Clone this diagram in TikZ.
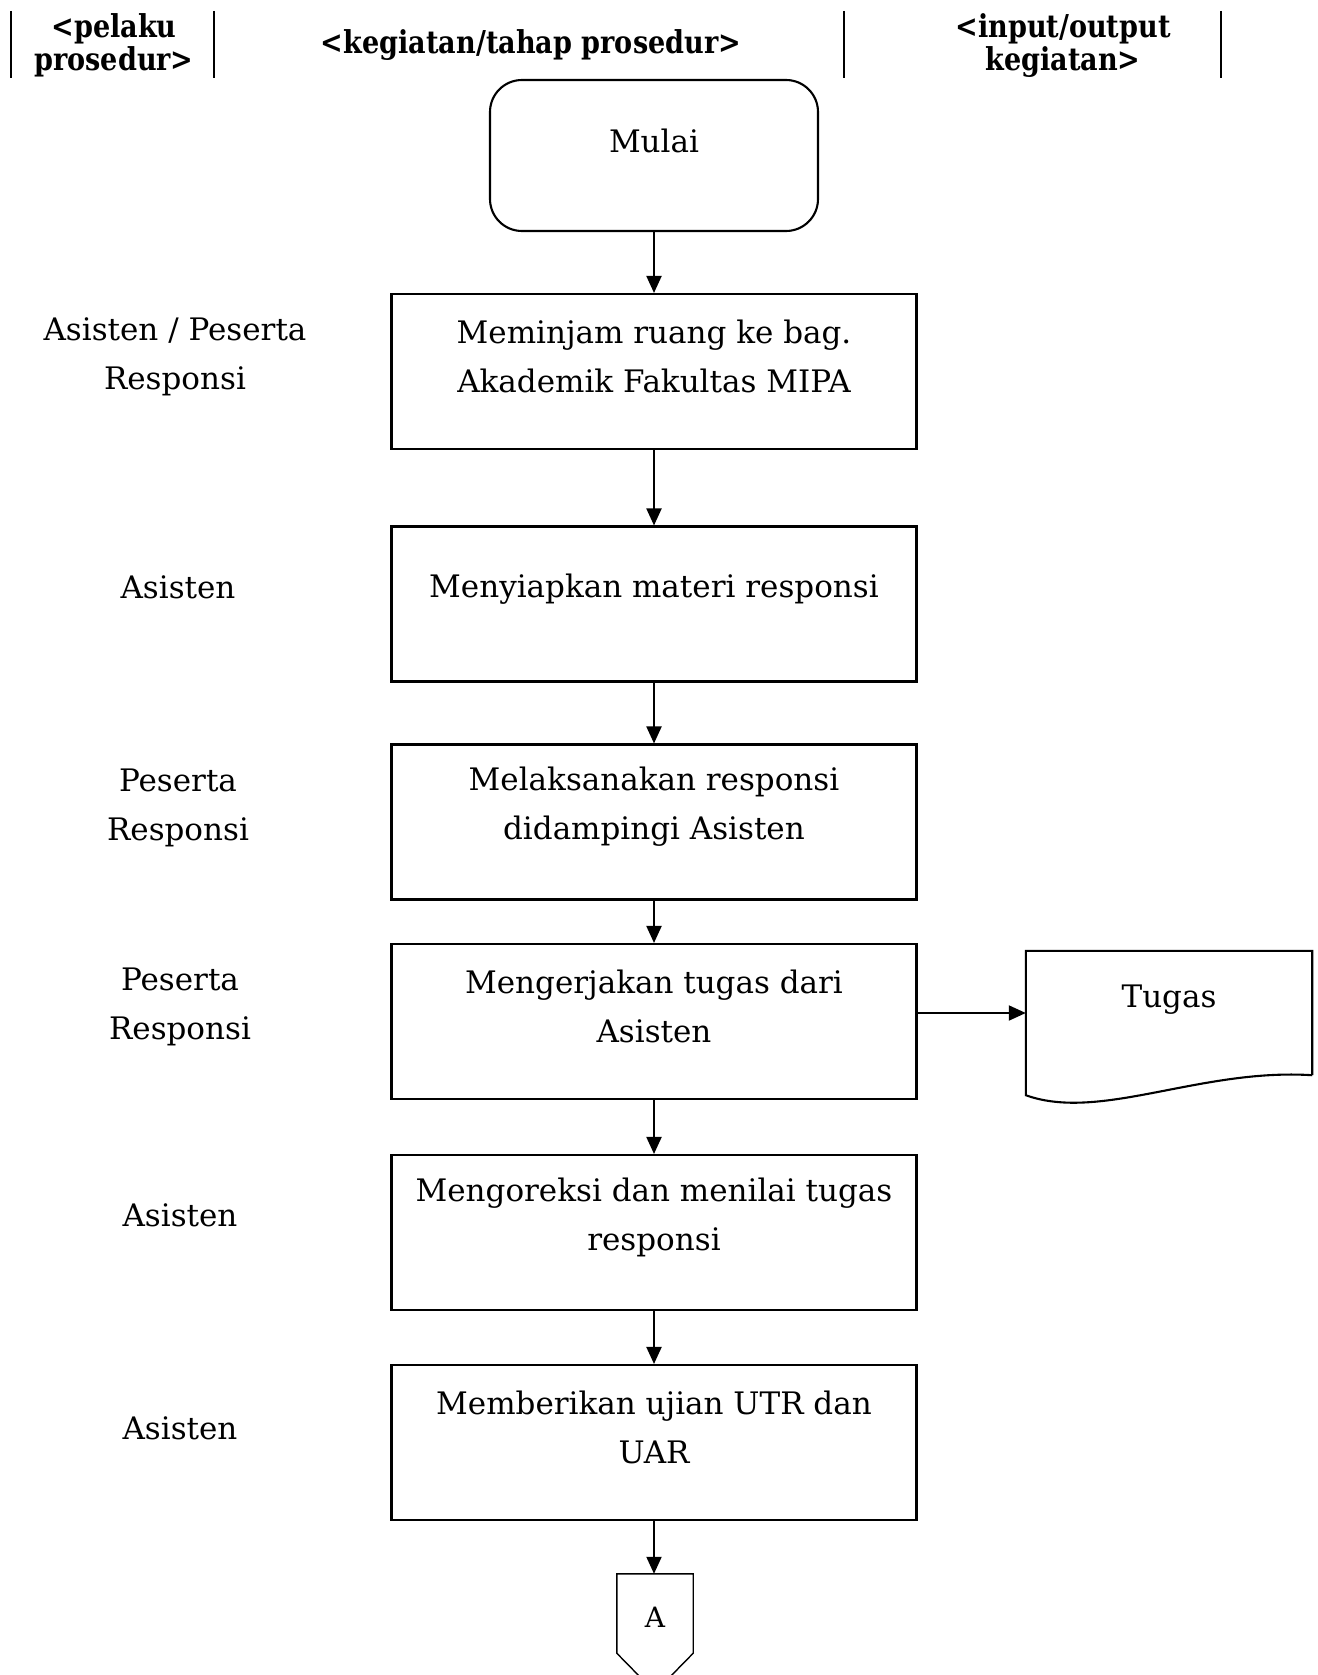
\documentclass[tikz,border=0pt]{standalone}
\usepackage{fontspec}
\setmainfont{DejaVu Serif}
\newfontfamily\hdrfont{DejaVu Serif}[FakeStretch=0.86]
\usetikzlibrary{arrows.meta}
\begin{document}
\begin{tikzpicture}[x=1pt,y=-1pt,
  proc/.style={draw, line width=2.1pt, minimum width=525pt, minimum height=155pt, inner sep=0pt},
  startbox/.style={draw, line width=2.1pt, rounded corners=32pt, minimum width=328pt, minimum height=151pt, inner sep=0pt},
  txt/.style={align=center, inner sep=0pt, font=\fontsize{31}{49}\selectfont},
  hdr/.style={align=center, inner sep=0pt, font=\hdrfont\bfseries\fontsize{31.5}{33}\selectfont},
  arr/.style={-{Triangle[length=17pt,width=15pt]}, line width=2pt},
  shapebox/.style={inner sep=0pt},
  sep/.style={line width=1.8pt}]
\useasboundingbox (0,0) rectangle (1317,1675);
\fill[white] (0,0) rectangle (1317,1675);

% header
\draw[sep] (10.7,11) -- (10.7,78);
\draw[sep] (213.6,11) -- (213.6,78);
\draw[sep] (843.8,11) -- (843.8,78);
\draw[sep] (1220.9,11) -- (1220.9,78);
\node[hdr] (h1) at (114,45.5) {<pelaku\\prosedur>};
\node[hdr] (h2) at (531,45) {<kegiatan/tahap prosedur>};
\node[hdr] (h3) at (1063,45.5) {<input/output\\kegiatan>};

% start
\node[startbox] (mulai) at (654,155.5) {};
\node[txt] (mulaiT) at ([yshift=15pt]mulai.center) {Mulai};

% process boxes
\node[proc] (b1) at (654,371.5) {};
\node[txt] (b1T) at ([yshift=15pt]b1.center) {Meminjam ruang ke bag.\\Akademik Fakultas MIPA};
\node[proc] (b2) at (654,604) {};
\node[txt] (b2T) at ([yshift=15pt]b2.center) {Menyiapkan materi responsi};
\node[proc] (b3) at (654,822) {};
\node[txt] (b3T) at ([yshift=15pt]b3.center) {Melaksanakan responsi\\didampingi Asisten};
\node[proc] (b4) at (654,1021.5) {};
\node[txt] (b4T) at ([yshift=15pt]b4.center) {Mengerjakan tugas dari\\Asisten};
\node[proc] (b5) at (654,1232.5) {};
\node[txt] (b5T) at ([yshift=15pt]b5.center) {Mengoreksi dan menilai tugas\\responsi};
\node[proc] (b6) at (654,1442.5) {};
\node[txt] (b6T) at ([yshift=15pt]b6.center) {Memberikan ujian UTR dan\\UAR};

% lane labels
\node[txt] (l1) at (175,356.5) {Asisten / Peserta\\Responsi};
\node[txt] (l2) at (178,587) {Asisten};
\node[txt] (l3) at (178,807.5) {Peserta\\Responsi};
\node[txt] (l4) at (180,1007) {Peserta\\Responsi};
\node[txt] (l5) at (180,1215) {Asisten};
\node[txt] (l6) at (180,1428) {Asisten};

% document
\node[shapebox, minimum width=286pt, minimum height=124pt] (tugas) at (1169,1013) {};
\draw[line width=2.1pt] (tugas.south east) -- (tugas.north east) -- (tugas.north west)
  -- ([yshift=-20pt]tugas.south west)
  .. controls (1100,1122) and (1200,1068) .. (tugas.south east);
\node[txt] (tugasT) at ([yshift=13pt]tugas.center) {Tugas};

% off-page connector
\node[shapebox, minimum width=76pt, minimum height=79pt] (offA) at (655,1613.5) {};
\draw[line width=1.4pt] (offA.north west) -- (offA.north east) -- (offA.south east)
  -- ([yshift=-39pt]offA.south) -- (offA.south west) -- cycle;
\node[txt, font=\fontsize{28}{34}\selectfont] (offAT) at ([yshift=-4pt]offA.center) {A};

% connectors
\draw[arr] (mulai) -- (b1);
\draw[arr] (b1) -- (b2);
\draw[arr] (b2) -- (b3);
\draw[arr] (b3) -- (b4);
\draw[arr] (b4) -- (b5);
\draw[arr] (b5) -- (b6);
\draw[arr] (b6.south) -- (b6.south |- offA.north);
\draw[arr] (b4.east |- tugas.west) -- (tugas.west);
\end{tikzpicture}
\end{document}
